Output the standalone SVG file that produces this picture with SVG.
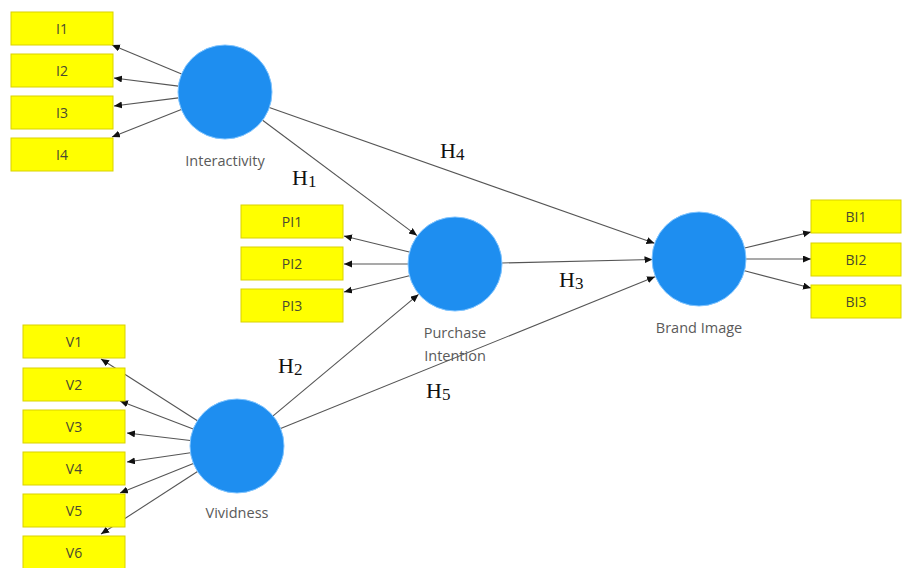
<svg xmlns="http://www.w3.org/2000/svg" width="904" height="568" viewBox="0 0 904 568">
<defs>
<marker id="ah" markerUnits="userSpaceOnUse" markerWidth="9" markerHeight="8" refX="8" refY="3.5" orient="auto">
<path d="M0,0 L8,3.5 L0,7 z" fill="#111"/>
</marker>
<style>
.box{fill:#ffff00;stroke:#d9d200;stroke-width:1}
.bt{font-family:"Open Sans","Noto Sans",sans-serif;font-size:14px;fill:#4a4a30;text-anchor:middle;dominant-baseline:central}
.lv{fill:#1e8ef0;stroke:#7fc4ff;stroke-width:1}
.lt{font-family:"Open Sans","Noto Sans",sans-serif;font-size:14.5px;fill:#5a5a5a;text-anchor:middle}
.c{stroke:#555;stroke-width:1.1;fill:none;marker-end:url(#ah)}
.h{font-family:"Liberation Serif","Times New Roman",serif;font-size:22px;fill:#111}
.s{font-size:17px}
</style>
</defs>
<rect width="904" height="568" fill="#fff"/>
<g id="connectors">
<line class="c" x1="181.6" y1="74" x2="112" y2="45"/>
<line class="c" x1="178.4" y1="86.1" x2="114" y2="78"/>
<line class="c" x1="178.4" y1="97.9" x2="114" y2="106"/>
<line class="c" x1="181.3" y1="109.4" x2="112" y2="137"/>
<line class="c" x1="409.3" y1="252" x2="344" y2="236"/>
<line class="c" x1="408" y1="264" x2="344" y2="264"/>
<line class="c" x1="409.4" y1="275.8" x2="344" y2="292"/>
<line class="c" x1="744.7" y1="248" x2="811" y2="232"/>
<line class="c" x1="746" y1="259" x2="811" y2="259"/>
<line class="c" x1="744.5" y1="270.8" x2="811" y2="288"/>
<line class="c" x1="197.4" y1="420.7" x2="101" y2="359"/>
<line class="c" x1="193.2" y1="429.1" x2="120" y2="401"/>
<line class="c" x1="190.3" y1="440.5" x2="127" y2="433"/>
<line class="c" x1="190.5" y1="452.8" x2="127" y2="462"/>
<line class="c" x1="193.4" y1="463.5" x2="120" y2="493"/>
<line class="c" x1="197.5" y1="471.5" x2="101" y2="534"/>
<line class="c" x1="262.6" y1="120.2" x2="417" y2="235.6"/>
<line class="c" x1="269.3" y1="107.6" x2="654.5" y2="243.3"/>
<line class="c" x1="502" y1="263" x2="652.5" y2="259.5"/>
<line class="c" x1="273.1" y1="415.9" x2="418.5" y2="294.4"/>
<line class="c" x1="280.6" y1="428.4" x2="655" y2="276.8"/>
</g>
<g id="I1"><rect class="box" x="11" y="12" width="102" height="33"/><text class="bt" x="62" y="28.5">I1</text></g>
<g id="I2"><rect class="box" x="11" y="54" width="102" height="33"/><text class="bt" x="62" y="70.5">I2</text></g>
<g id="I3"><rect class="box" x="11" y="96" width="102" height="33"/><text class="bt" x="62" y="112.5">I3</text></g>
<g id="I4"><rect class="box" x="11" y="138" width="102" height="33"/><text class="bt" x="62" y="154.5">I4</text></g>
<g id="PI1"><rect class="box" x="241" y="205" width="102" height="33"/><text class="bt" x="292" y="221.5">PI1</text></g>
<g id="PI2"><rect class="box" x="241" y="247" width="102" height="33"/><text class="bt" x="292" y="263.5">PI2</text></g>
<g id="PI3"><rect class="box" x="241" y="289" width="102" height="33"/><text class="bt" x="292" y="305.5">PI3</text></g>
<g id="BI1"><rect class="box" x="811" y="200" width="90" height="33"/><text class="bt" x="856" y="216.5">BI1</text></g>
<g id="BI2"><rect class="box" x="811" y="243" width="90" height="33"/><text class="bt" x="856" y="259.5">BI2</text></g>
<g id="BI3"><rect class="box" x="811" y="285" width="90" height="33"/><text class="bt" x="856" y="301.5">BI3</text></g>
<g id="V1"><rect class="box" x="23" y="325" width="102" height="33"/><text class="bt" x="74" y="341.5">V1</text></g>
<g id="V2"><rect class="box" x="23" y="368" width="102" height="33"/><text class="bt" x="74" y="384.5">V2</text></g>
<g id="V3"><rect class="box" x="23" y="410" width="102" height="33"/><text class="bt" x="74" y="426.5">V3</text></g>
<g id="V4"><rect class="box" x="23" y="452" width="102" height="33"/><text class="bt" x="74" y="468.5">V4</text></g>
<g id="V5"><rect class="box" x="23" y="494" width="102" height="33"/><text class="bt" x="74" y="510.5">V5</text></g>
<g id="V6"><rect class="box" x="23" y="536" width="102" height="33"/><text class="bt" x="74" y="552.5">V6</text></g>
<g id="Interactivity"><circle class="lv" cx="225" cy="92" r="47"/><text class="lt" x="225" y="166">Interactivity</text></g>
<g id="PurchaseIntention"><circle class="lv" cx="455" cy="264" r="47"/><text class="lt" x="455" y="338">Purchase</text><text class="lt" x="455" y="361">Intention</text></g>
<g id="BrandImage"><circle class="lv" cx="699" cy="259" r="47"/><text class="lt" x="699" y="333">Brand Image</text></g>
<g id="Vividness"><circle class="lv" cx="237" cy="446" r="47"/><text class="lt" x="237" y="518">Vividness</text></g>
<g id="labels">
<text class="h" x="292" y="185">H<tspan class="s" dy="2">1</tspan></text>
<text class="h" x="440" y="158">H<tspan class="s" dy="2">4</tspan></text>
<text class="h" x="559" y="287">H<tspan class="s" dy="2">3</tspan></text>
<text class="h" x="278" y="373">H<tspan class="s" dy="2">2</tspan></text>
<text class="h" x="426" y="398">H<tspan class="s" dy="2">5</tspan></text>
</g>
</svg>
